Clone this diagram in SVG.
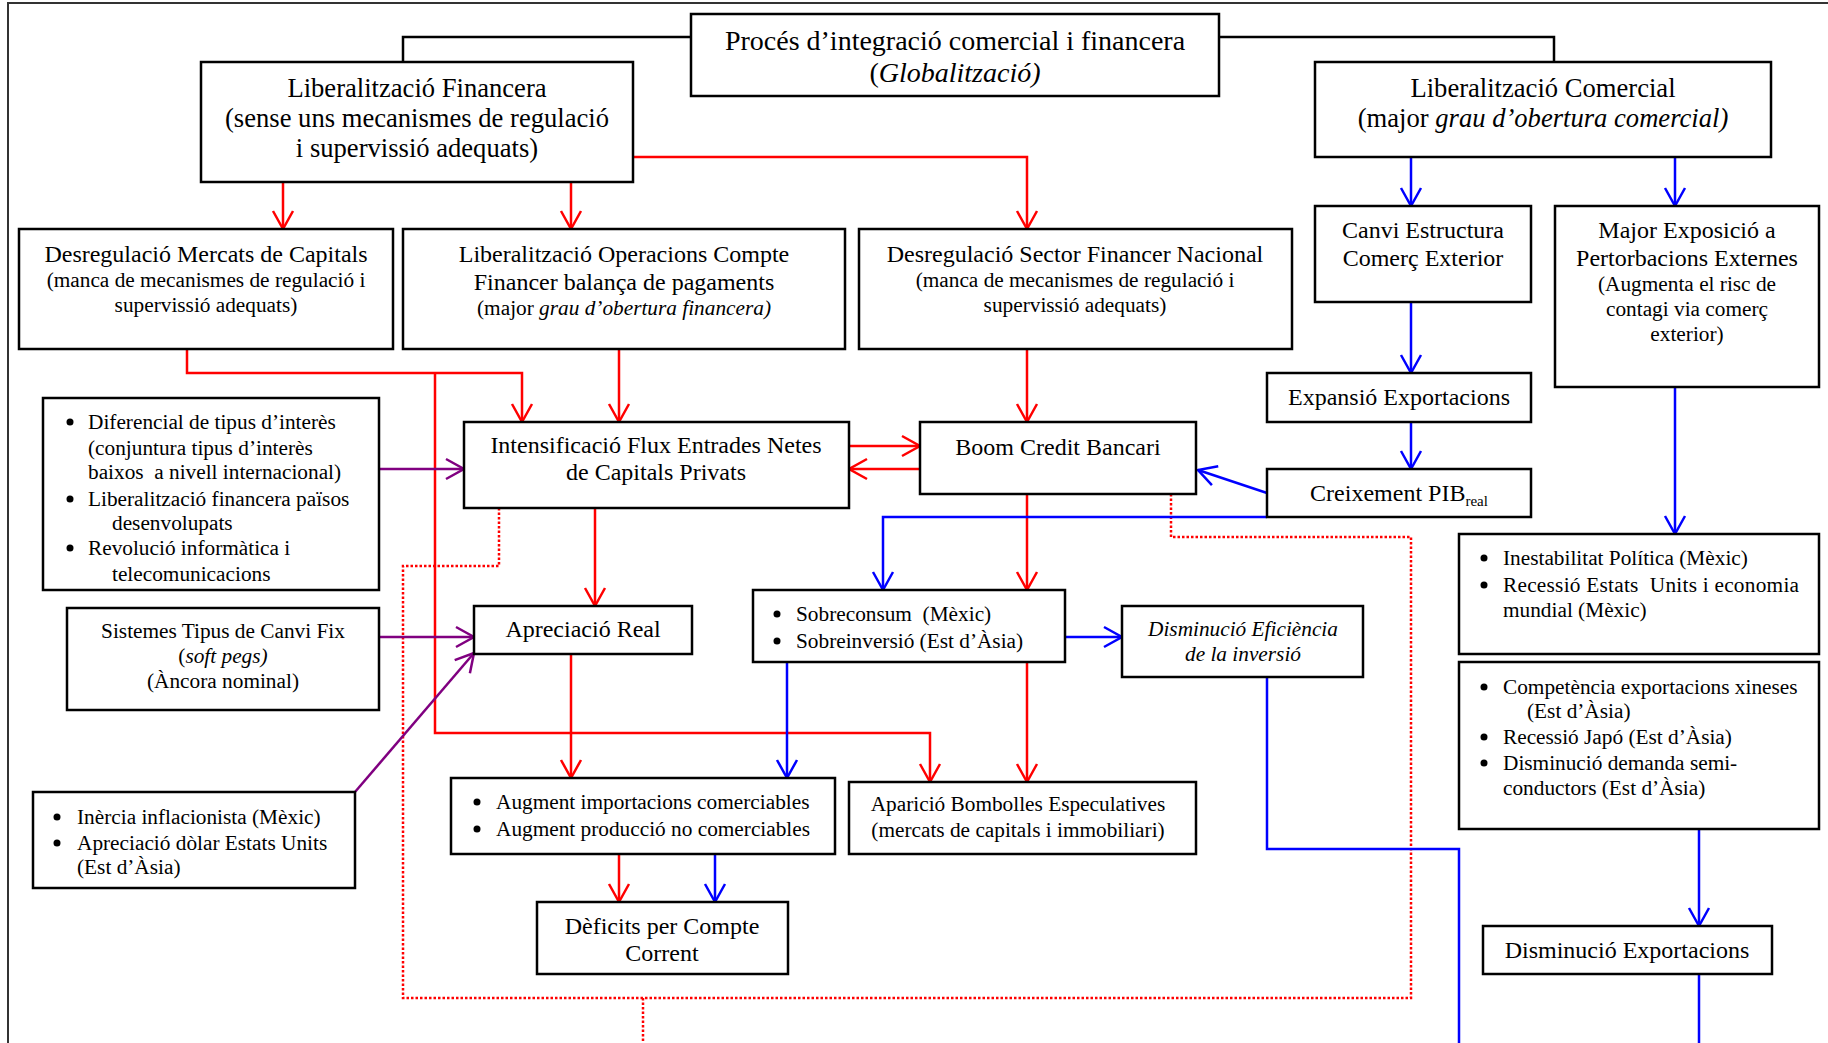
<svg xmlns="http://www.w3.org/2000/svg" width="1828" height="1043" viewBox="0 0 1828 1043">
<style>
.box{fill:#fff;stroke:#000;stroke-width:2.5}
text{font-family:"Liberation Serif","Times New Roman",serif;fill:#000}
.t28{font-size:28px;text-anchor:middle}
.t26{font-size:26.6px;text-anchor:middle}
.t24{font-size:24px;text-anchor:middle}
.t20{font-size:21.3px;text-anchor:middle}
.l20{font-size:21.3px}
.it{font-style:italic}
.pre{white-space:pre}
.blk{fill:none;stroke:#000;stroke-width:2.5}
.red{fill:none;stroke:#f00;stroke-width:2.5}
.redd{fill:none;stroke:#f00;stroke-width:2.5;stroke-dasharray:2.5 2}
.blu{fill:none;stroke:#00f;stroke-width:2.5}
.pur{fill:none;stroke:#800080;stroke-width:2.5}
.ar{marker-end:url(#ar)}
.ab{marker-end:url(#ab)}
.ap{marker-end:url(#ap)}
</style>
<defs>
<marker id="ar" markerUnits="userSpaceOnUse" viewBox="-22 -13 26 26" markerWidth="26" markerHeight="26" refX="0" refY="0" orient="auto"><path d="M-18,-10 L0,0 L-18,10" fill="none" stroke="#f00" stroke-width="2.5"/></marker>
<marker id="ab" markerUnits="userSpaceOnUse" viewBox="-22 -13 26 26" markerWidth="26" markerHeight="26" refX="0" refY="0" orient="auto"><path d="M-18,-10 L0,0 L-18,10" fill="none" stroke="#00f" stroke-width="2.5"/></marker>
<marker id="ap" markerUnits="userSpaceOnUse" viewBox="-22 -13 26 26" markerWidth="26" markerHeight="26" refX="0" refY="0" orient="auto"><path d="M-18,-10 L0,0 L-18,10" fill="none" stroke="#800080" stroke-width="2.5"/></marker>
</defs>
<rect width="1828" height="1043" fill="#fff"/>
<path d="M8,1043 V3 H1828" fill="none" stroke="#333" stroke-width="2"/>

<g id="connectors">
<path class="blk" d="M691,37 H403 V62"/>
<path class="blk" d="M1219,37 H1554 V62"/>
<path class="red ar" d="M283,182 V229"/>
<path class="red ar" d="M571,182 V229"/>
<path class="red ar" d="M633,157 H1027 V229"/>
<path class="red ar" d="M187,349 V373 H522 V422"/>
<path class="red ar" d="M435,373 V733 H930 V782"/>
<path class="red ar" d="M619,349 V422"/>
<path class="red ar" d="M1027,349 V422"/>
<path class="red ar" d="M849,446 H920"/>
<path class="red ar" d="M920,469 H849"/>
<path class="red ar" d="M595,508 V606"/>
<path class="red ar" d="M1027,494 V590"/>
<path class="red ar" d="M571,654 V778"/>
<path class="red ar" d="M1027,662 V782"/>
<path class="red ar" d="M619,854 V902"/>
<path class="redd" d="M499,508 V566 H403 V998 H1411 V537 H1171 V494"/>
<path class="redd" d="M643,998 V1043"/>
<path class="blu ab" d="M1411,157 V206"/>
<path class="blu ab" d="M1675,157 V206"/>
<path class="blu ab" d="M1411,302 V373"/>
<path class="blu ab" d="M1411,422 V469"/>
<path class="blu ab" d="M1267,493 L1198,470"/>
<path class="blu ab" d="M1267,517 H883 V590"/>
<path class="blu ab" d="M1675,387 V534"/>
<path class="blu ab" d="M1028,637 H1122"/>
<path class="blu ab" d="M787,662 V778"/>
<path class="blu ab" d="M715,854 V902"/>
<path class="blu" d="M1267,677 V849 H1459 V1043"/>
<path class="blu ab" d="M1699,829 V926"/>
<path class="blu" d="M1699,974 V1043"/>
<path class="pur ap" d="M379,469 H464"/>
<path class="pur ap" d="M379,637 H474"/>
<path class="pur ap" d="M355,792 L474,653"/>
</g>

<g id="n-proces">
<rect class="box" x="691" y="14" width="528" height="82"/>
<text class="t28" x="955" y="50">Procés d’integració comercial i financera</text>
<text class="t28" x="955" y="82">(<tspan class="it">Globalització)</tspan></text>
</g>

<g id="n-libfin">
<rect class="box" x="201" y="62" width="432" height="120"/>
<text class="t26" x="417" y="97">Liberalització Financera</text>
<text class="t26" x="417" y="127">(sense uns mecanismes de regulació</text>
<text class="t26" x="417" y="157">i supervissió adequats)</text>
</g>

<g id="n-libcom">
<rect class="box" x="1315" y="62" width="456" height="95"/>
<text class="t26" x="1543" y="97">Liberalització Comercial</text>
<text class="t26" x="1543" y="127">(major <tspan class="it">grau d’obertura comercial)</tspan></text>
</g>

<g id="n-desregmerc">
<rect class="box" x="19" y="229" width="374" height="120"/>
<text class="t24" x="206" y="262">Desregulació Mercats de Capitals</text>
<text class="t20" x="206" y="287">(manca de mecanismes de regulació i</text>
<text class="t20" x="206" y="312">supervissió adequats)</text>
</g>

<g id="n-libop">
<rect class="box" x="403" y="229" width="442" height="120"/>
<text class="t24" x="624" y="262">Liberalització Operacions Compte</text>
<text class="t24" x="624" y="290">Financer balança de pagaments</text>
<text class="t20" x="624" y="315">(major <tspan class="it">grau d’obertura financera)</tspan></text>
</g>

<g id="n-desregsec">
<rect class="box" x="859" y="229" width="433" height="120"/>
<text class="t24" x="1075" y="262">Desregulació Sector Financer Nacional</text>
<text class="t20" x="1075" y="287">(manca de mecanismes de regulació i</text>
<text class="t20" x="1075" y="312">supervissió adequats)</text>
</g>

<g id="n-canvi">
<rect class="box" x="1315" y="206" width="216" height="96"/>
<text class="t24" x="1423" y="238">Canvi Estructura</text>
<text class="t24" x="1423" y="266">Comerç Exterior</text>
</g>

<g id="n-major">
<rect class="box" x="1555" y="206" width="264" height="181"/>
<text class="t24" x="1687" y="238">Major Exposició a</text>
<text class="t24" x="1687" y="266">Pertorbacions Externes</text>
<text class="t20" x="1687" y="291">(Augmenta el risc de</text>
<text class="t20" x="1687" y="316">contagi via comerç</text>
<text class="t20" x="1687" y="341">exterior)</text>
</g>

<g id="n-expansio">
<rect class="box" x="1267" y="373" width="264" height="49"/>
<text class="t24" x="1399" y="405">Expansió Exportacions</text>
</g>

<g id="n-creixement">
<rect class="box" x="1267" y="469" width="264" height="48"/>
<text class="t24" x="1399" y="501">Creixement PIB<tspan font-size="15" dy="5">real</tspan></text>
</g>

<g id="n-diferencial">
<rect class="box" x="43" y="398" width="336" height="192"/>
<circle cx="70" cy="422" r="3.5"/>
<circle cx="70" cy="499" r="3.5"/>
<circle cx="70" cy="548" r="3.5"/>
<text class="l20" x="88" y="429">Diferencial de tipus d’interès</text>
<text class="l20" x="88" y="455">(conjuntura tipus d’interès</text>
<text class="l20 pre" x="88" y="479">baixos  a nivell internacional)</text>
<text class="l20" x="88" y="506">Liberalització financera països</text>
<text class="l20" x="112" y="530">desenvolupats</text>
<text class="l20" x="88" y="555">Revolució informàtica i</text>
<text class="l20" x="112" y="581">telecomunicacions</text>
</g>

<g id="n-intens">
<rect class="box" x="464" y="422" width="385" height="86"/>
<text class="t24" x="656" y="453">Intensificació Flux Entrades Netes</text>
<text class="t24" x="656" y="480">de Capitals Privats</text>
</g>

<g id="n-boom">
<rect class="box" x="920" y="422" width="276" height="72"/>
<text class="t24" x="1058" y="455">Boom Credit Bancari</text>
</g>

<g id="n-sistemes">
<rect class="box" x="67" y="608" width="312" height="102"/>
<text class="t20" x="223" y="638">Sistemes Tipus de Canvi Fix</text>
<text class="t20" x="223" y="663">(<tspan class="it">soft pegs)</tspan></text>
<text class="t20" x="223" y="688">(Àncora nominal)</text>
</g>

<g id="n-apreciacio">
<rect class="box" x="474" y="606" width="218" height="48"/>
<text class="t24" x="583" y="637">Apreciació Real</text>
</g>

<g id="n-sobreconsum">
<rect class="box" x="753" y="590" width="312" height="72"/>
<circle cx="777" cy="614" r="3.5"/>
<circle cx="777" cy="641" r="3.5"/>
<text class="l20 pre" x="796" y="621">Sobreconsum  (Mèxic)</text>
<text class="l20" x="796" y="648">Sobreinversió (Est d’Àsia)</text>
</g>

<g id="n-eficiencia">
<rect class="box" x="1122" y="606" width="241" height="71"/>
<text class="t20 it" x="1243" y="636">Disminució Eficiència</text>
<text class="t20 it" x="1243" y="661">de la inversió</text>
</g>

<g id="n-inestabilitat">
<rect class="box" x="1459" y="534" width="360" height="120"/>
<circle cx="1484" cy="558" r="3.5"/>
<circle cx="1484" cy="585" r="3.5"/>
<text class="l20" x="1503" y="565">Inestabilitat Política (Mèxic)</text>
<text class="l20 pre" x="1503" y="592" textLength="296" lengthAdjust="spacing">Recessió Estats  Units i economia</text>
<text class="l20" x="1503" y="617">mundial (Mèxic)</text>
</g>

<g id="n-competencia">
<rect class="box" x="1459" y="662" width="360" height="167"/>
<circle cx="1484" cy="687" r="3.5"/>
<circle cx="1484" cy="737" r="3.5"/>
<circle cx="1484" cy="763" r="3.5"/>
<text class="l20" x="1503" y="694">Competència exportacions xineses</text>
<text class="l20" x="1527" y="718">(Est d’Àsia)</text>
<text class="l20" x="1503" y="744">Recessió Japó (Est d’Àsia)</text>
<text class="l20" x="1503" y="770">Disminució demanda semi-</text>
<text class="l20" x="1503" y="795">conductors (Est d’Àsia)</text>
</g>

<g id="n-inercia">
<rect class="box" x="33" y="792" width="322" height="96"/>
<circle cx="57" cy="817" r="3.5"/>
<circle cx="57" cy="843" r="3.5"/>
<text class="l20" x="77" y="824">Inèrcia inflacionista (Mèxic)</text>
<text class="l20" x="77" y="850">Apreciació dòlar Estats Units</text>
<text class="l20" x="77" y="874">(Est d’Àsia)</text>
</g>

<g id="n-augment">
<rect class="box" x="451" y="778" width="384" height="76"/>
<circle cx="477" cy="802" r="3.5"/>
<circle cx="477" cy="829" r="3.5"/>
<text class="l20" x="496" y="809">Augment importacions comerciables</text>
<text class="l20" x="496" y="836">Augment producció no comerciables</text>
</g>

<g id="n-bombolles">
<rect class="box" x="849" y="782" width="347" height="72"/>
<text class="t20" x="1018" y="811">Aparició Bombolles Especulatives</text>
<text class="t20" x="1018" y="837">(mercats de capitals i immobiliari)</text>
</g>

<g id="n-deficits">
<rect class="box" x="537" y="902" width="251" height="72"/>
<text class="t24" x="662" y="934">Dèficits per Compte</text>
<text class="t24" x="662" y="961">Corrent</text>
</g>

<g id="n-dimexp">
<rect class="box" x="1483" y="926" width="289" height="48"/>
<text class="t24" x="1627" y="958">Disminució Exportacions</text>
</g>
</svg>
